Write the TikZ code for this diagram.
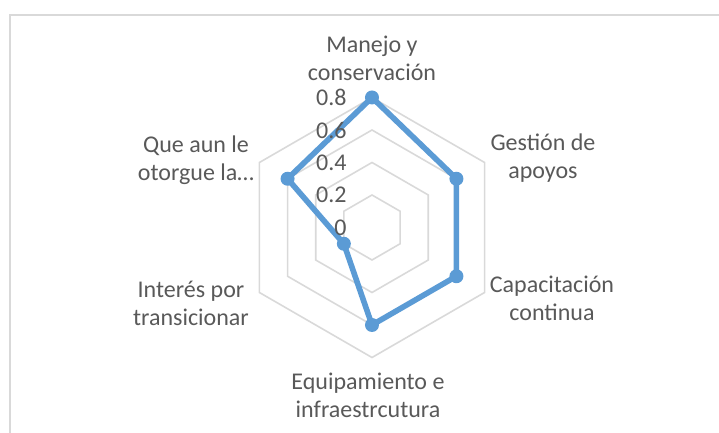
\documentclass[tikz,border=0pt]{standalone}
\usepackage{fontspec}
\setmainfont{Carlito}
\usepackage{tikz}
\usetikzlibrary{positioning}

\definecolor{txtgray}{HTML}{595959}
\definecolor{gridgray}{HTML}{D9D9D9}
\definecolor{serieblue}{HTML}{5B9BD5}

\begin{document}
\begin{tikzpicture}[
    x=0.5pt, y=0.5pt,
    every node/.style={font=\fontsize{12pt}{14pt}\selectfont, text=txtgray},
    axislabel/.style={align=center, inner sep=0pt},
    ticklabel/.style={anchor=east, inner sep=0pt},
    grid/.style={draw=gridgray, line width=0.8pt},
    frame/.style={draw=gridgray, line width=0.8pt},
    serie/.style={draw=serieblue, line width=2.8pt, line join=round},
    dot/.style={circle, fill=serieblue, minimum size=7pt, inner sep=0pt}
]
\useasboundingbox (-372,-205.5) rectangle (347,227.5);

% chart area border (clipped at right and bottom)
\draw[frame] (-362,-205.5) -- (-362,212.5) -- (347,212.5);

% hexagonal grid
\foreach \r in {32.5,65,97.5,130}
    \draw[grid] (90:\r) -- (30:\r) -- (-30:\r) -- (-90:\r) -- (-150:\r) -- (150:\r) -- cycle;

% data
\coordinate (manejo) at (90:130);
\coordinate (gestion) at (30:97.5);
\coordinate (capacitacion) at (-30:97.5);
\coordinate (equipamiento) at (-90:97.5);
\coordinate (interes) at (-150:32.5);
\coordinate (queaun) at (150:97.5);

\draw[serie] (manejo) -- (gestion) -- (capacitacion) -- (equipamiento) -- (interes) -- (queaun) -- cycle;

\node[dot] (m1) at (manejo) {};
\node[dot] (m2) at (gestion) {};
\node[dot] (m3) at (capacitacion) {};
\node[dot] (m4) at (equipamiento) {};
\node[dot] (m5) at (interes) {};
\node[dot] (m6) at (queaun) {};

% scale values (on top of the series)
\node[ticklabel] (t0) at (-25,0) {0};
\node[ticklabel] (t2) at (-25,32.5) {0.2};
\node[ticklabel] (t4) at (-25,65) {0.4};
\node[ticklabel] (t6) at (-25,97.5) {0.6};
\node[ticklabel] (t8) at (-25,130) {0.8};

% axis labels
\node[axislabel] (lmanejo) at (0,169.5) {Manejo y\\conservación};
\node[axislabel] (lgestion) at (171,69.5) {Gestión de\\apoyos};
\node[axislabel] (lcapacitacion) at (180,-71) {Capacitación\\continua};
\node[axislabel] (lequipamiento) at (-4,-167.5) {Equipamiento e\\infraestrcutura};
\node[axislabel] (linteres) at (-181,-76) {Interés por\\transicionar};
\node[axislabel] (lqueaun) at (-176,67) {Que aun le\\otorgue la…};

\end{tikzpicture}
\end{document}
